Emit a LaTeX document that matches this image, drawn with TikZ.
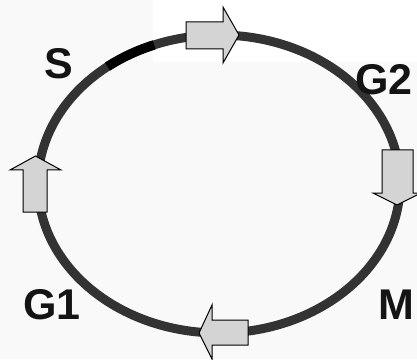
\documentclass[tikz,border=0pt]{standalone}
\usepackage{fontspec}
\setmainfont{Liberation Sans}
\usetikzlibrary{calc}
\definecolor{ringgray}{HTML}{333333}
\definecolor{arrowfill}{HTML}{D4D4D4}
\definecolor{bgoff}{HTML}{F9F9F9}
\tikzset{
  phasearrow/.style={draw=black, line width=1pt, fill=arrowfill, line join=miter},
  phaselabel/.style={font=\fontsize{43}{43}\bfseries\selectfont, inner sep=0pt, text=black!92},
  ring/.style={draw=ringgray, line width=9pt}
}
\begin{document}
\begin{tikzpicture}[x=1pt,y=1pt]
\useasboundingbox (0,0) rectangle (417,359);
\fill[bgoff] (0,0) rectangle (417,359);
\fill[white] (153,297) rectangle (417,359);
% cell cycle ring
\coordinate (c) at (219,175);
\draw[ring] (c) ellipse [x radius=181, y radius=149];
% S-phase segment
\draw[black, line width=9.5pt] ($(c)+(128:181 and 149)$) arc [start angle=128, end angle=111, x radius=181, y radius=149];
% arrows
\draw[phasearrow] (186,310) -- (186,337) -- (223,337) -- (223,352) -- (239,324) -- (223,296) -- (223,310) -- cycle;
\draw[phasearrow] (382,209) -- (382,166) -- (373,166) -- (397,154) -- (421,166) -- (413,166) -- (413,209) -- cycle;
\draw[phasearrow] (248,14) -- (248,39) -- (212,39) -- (212,54) -- (199,26) -- (212,0) -- (212,14) -- cycle;
\draw[phasearrow] (23,147) -- (23,189) -- (10,189) -- (35.5,203) -- (61,189) -- (47,189) -- (47,147) -- cycle;
% labels
\node[phaselabel] (s) at (59,295) {S};
\node[phaselabel] (g2) at (384,279) {G2};
\node[phaselabel] (g1) at (52,54) {G1};
\node[phaselabel] (m) at (396,54) {M};
\end{tikzpicture}
\end{document}
